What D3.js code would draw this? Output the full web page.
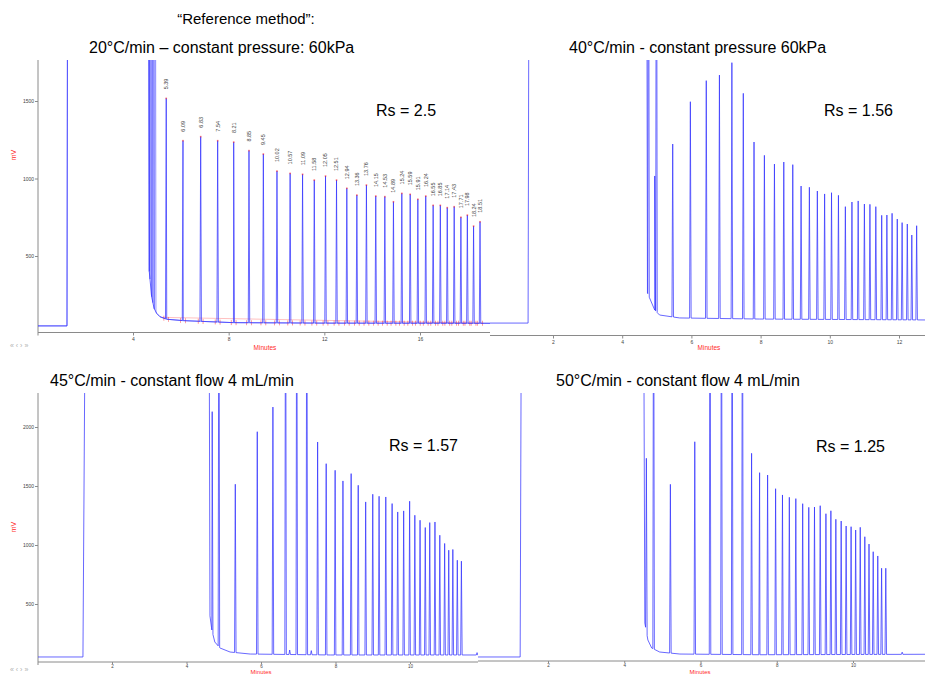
<!DOCTYPE html>
<html>
<head>
<meta charset="utf-8">
<script src="https://cdn.jsdelivr.net/npm/d3@7"></script>
<style>
body { margin: 0; background: #fff; }
svg { display: block; font-family: "Liberation Sans", Arial, sans-serif; }
</style>
</head>
<body>
<svg id="chart" width="925" height="674"></svg>
<script>
// ---- data (minutes / mV) ----
// panel 1: 20°C/min, constant pressure 60kPa
const p1BaseT = [0, 1.24, 1.28, 4.64, 4.68, 4.78, 4.88, 4.99, 5.13, 5.41, 6.1, 8.2, 12, 18.93];
const p1BaseV = [49, 49, 4000, 4000, 400, 237, 163, 130, 108, 92, 83, 70, 67, 66];
const p1EarlyTimes = [4.68, 4.74, 4.80, 4.86, 4.93];
const p1EarlyHeights = [4000, 4000, 4000, 4000, 4000];
const p1Times = [5.39, 6.09, 6.83, 7.54, 8.21, 8.85, 9.45, 10.02, 10.57, 11.09, 11.58, 12.05, 12.51, 12.94, 13.36, 13.76,
  14.15, 14.53, 14.89, 15.24, 15.59, 15.91, 16.24, 16.55, 16.85, 17.14, 17.43, 17.71, 17.98, 18.24, 18.51];
const p1Heights = [1517, 1244, 1270, 1244, 1235, 1180, 1158, 1048, 1033, 1027, 990, 1016, 990, 937, 893, 958,
  887, 883, 850, 904, 898, 866, 887, 827, 827, 812, 818, 750, 764, 693, 721];

// panel 2: 40°C/min, constant pressure 60kPa
const p2BaseT = [0, 1.28, 1.32, 4.70, 4.73, 4.94, 5.08, 5.66, 7.97, 12.8];
const p2BaseV = [77, 77, 4000, 4000, 271, 161, 129, 110, 103, 97];
const p2Times = [4.76, 4.94, 4.99, 5.46, 5.97, 6.43, 6.81, 7.17, 7.50, 7.81, 8.11, 8.40, 8.67, 8.93, 9.17, 9.41, 9.64,
  9.85, 10.05, 10.25, 10.45, 10.64, 10.82, 11.00, 11.16, 11.33, 11.50, 11.65, 11.80, 11.95, 12.09, 12.24, 12.37, 12.51];
const p2Heights = [4000, 1026, 4000, 1232, 1505, 1641, 1677, 1757, 1559, 1245, 1159, 1103, 1116, 1099, 961, 953, 929,
  910, 918, 901, 828, 858, 865, 845, 843, 828, 772, 774, 785, 748, 725, 716, 645, 705];

// panel 3: 45°C/min, constant flow 4 mL/min
const p3BaseT = [0, 1.22, 1.30, 4.60, 4.63, 4.68, 4.76, 4.90, 5.17, 5.71, 7.86, 11.85];
const p3BaseV = [51, 51, 4000, 4000, 400, 280, 178, 127, 93, 76, 68, 68];
const p3Times = [4.69, 4.87, 5.31, 5.90, 6.32, 6.66, 6.77, 6.96, 7.23, 7.35, 7.52, 7.75, 7.99, 8.20, 8.42, 8.61, 8.81,
  9.00, 9.17, 9.35, 9.52, 9.67, 9.83, 9.99, 10.13, 10.27, 10.41, 10.53, 10.67, 10.80, 10.93, 11.04, 11.15, 11.27, 11.38, 11.80];
const p3Heights = [2130, 4000, 1515, 1960, 2169, 4000, 110, 4000, 4000, 105, 1873, 1689, 1633, 1543, 1605, 1506, 1365,
  1430, 1413, 1407, 1351, 1280, 1289, 1371, 1252, 1210, 1148, 1190, 1195, 1083, 1013, 956, 962, 871, 863, 88];

// panel 4: 50°C/min, constant flow 4 mL/min
const p4BaseT = [0, 1.27, 1.31, 4.50, 4.54, 4.62, 4.72, 4.93, 5.46, 7.56, 12];
const p4BaseV = [51, 51, 4000, 4000, 339, 195, 127, 93, 76, 70, 74];
const p4Times = [4.58, 4.77, 5.21, 5.85, 6.25, 6.55, 6.83, 7.10, 7.34, 7.55, 7.76, 7.97, 8.15, 8.33, 8.50, 8.68, 8.84,
  8.99, 9.14, 9.29, 9.42, 9.55, 9.69, 9.82, 9.95, 10.07, 10.19, 10.31, 10.42, 10.53, 10.65, 10.75, 10.86, 11.29];
const p4Heights = [1735, 4000, 1514, 1875, 4000, 4000, 4000, 4000, 1777, 1613, 1593, 1477, 1424, 1404, 1393, 1350, 1319,
  1322, 1333, 1265, 1290, 1218, 1203, 1161, 1155, 1127, 1150, 1070, 1008, 943, 907, 803, 803, 92];

const titles = ["20°C/min – constant pressure: 60kPa", "40°C/min - constant pressure 60kPa",
  "45°C/min - constant flow 4 mL/min", "50°C/min - constant flow 4 mL/min"];
const rsLabels = ["Rs = 2.5", "Rs = 1.56", "Rs = 1.57", "Rs = 1.25"];
const p1YTicks = [500, 1000, 1500];
const p3YTicks = [500, 1000, 1500, 2000];
const p1XTicks = [4, 8, 12, 16];
const p2XTicks = [2, 4, 6, 8, 10, 12];
const p34XTicks = [2, 4, 6, 8, 10];

const traceColor = "#3535ff";
const axisColor = "#8a8a8a";
const redColor = "#ff2a2a";

const svg = d3.select("#chart");

svg.append("text")
  .attr("x", 246).attr("y", 24)
  .attr("text-anchor", "middle")
  .style("font-size", "15px")
  .text("“Reference method”:");

// build a trace: baseline knots + narrow peaks
function buildTrace(baseT, baseV, times, heights, hw) {
  const base = d3.scaleLinear().domain(baseT).range(baseV).clamp(true);
  const pts = baseT.map((t, i) => [t, baseV[i]]);
  times.forEach((t, i) => {
    pts.push([t - hw, base(t - hw)]);
    pts.push([t, heights[i]]);
    pts.push([t + hw, base(t + hw)]);
  });
  pts.sort((a, b) => a[0] - b[0]);
  return { pts, base };
}

function drawPanel(cfg) {
  const x = d3.scaleLinear().domain(cfg.xd).range(cfg.xr);
  const y = d3.scaleLinear().domain(cfg.yd).range(cfg.yr);
  const g = svg.append("g");

  const clipId = "clip" + cfg.id;
  svg.append("clipPath").attr("id", clipId)
    .append("rect")
    .attr("x", cfg.clip[0]).attr("y", cfg.clip[1])
    .attr("width", cfg.clip[2] - cfg.clip[0]).attr("height", cfg.clip[3] - cfg.clip[1]);

  // x axis
  g.append("line")
    .attr("x1", cfg.axisX[0]).attr("x2", cfg.axisX[1])
    .attr("y1", cfg.axisY).attr("y2", cfg.axisY)
    .attr("stroke", axisColor).attr("stroke-width", 1);
  const xa = g.append("g")
    .attr("transform", `translate(0,${cfg.axisY})`)
    .call(d3.axisBottom(x).tickValues(cfg.xTicks).tickSize(cfg.tick[0]).tickPadding(cfg.tick[1]).tickFormat(d3.format("d")));
  xa.select(".domain").remove();
  xa.selectAll("line").attr("stroke", axisColor);
  xa.selectAll("text").attr("fill", "#444").style("font-size", cfg.tick[2] + "px").style("font-family", "Liberation Sans, Arial");

  if (cfg.yTicks) {
    g.append("line")
      .attr("x1", cfg.axisX[0]).attr("x2", cfg.axisX[0])
      .attr("y1", cfg.clip[1]).attr("y2", cfg.axisY + 3)
      .attr("stroke", axisColor).attr("stroke-width", 1);
    const ya = g.append("g")
      .attr("transform", `translate(${cfg.axisX[0]},0)`)
      .call(d3.axisLeft(y).tickValues(cfg.yTicks).tickSize(3).tickPadding(1).tickFormat(d3.format("d")));
    ya.select(".domain").remove();
    ya.selectAll("line").attr("stroke", axisColor);
    ya.selectAll("text").attr("fill", "#444").style("font-size", "5px").style("font-family", "Liberation Sans, Arial");

    g.append("text")
      .attr("transform", `translate(${cfg.mv[0]},${cfg.mv[1]}) rotate(-90)`)
      .attr("text-anchor", "middle")
      .attr("fill", redColor)
      .style("font-size", "7px")
      .text("mV");
    g.append("text")
      .attr("x", 10).attr("y", cfg.nav)
      .attr("fill", "#b0b0b0")
      .style("font-size", "7px")
      .text("« ‹ › »");
  }

  g.append("text")
    .attr("x", cfg.minutes[0]).attr("y", cfg.minutes[1])
    .attr("text-anchor", "middle")
    .attr("fill", redColor)
    .style("font-size", cfg.minutes[2] + "px")
    .text("Minutes");

  // trace
  const tr = buildTrace(cfg.baseT, cfg.baseV, cfg.times, cfg.heights, cfg.hw);
  const line = d3.line().x(d => x(d[0])).y(d => y(d[1]));
  const pg = g.append("g").attr("clip-path", `url(#${clipId})`);

  if (cfg.labels) {
    // integration baseline + red markers
    pg.append("path")
      .datum([[5.2, tr.base(5.2)], [18.65, tr.base(18.65)]])
      .attr("d", line)
      .attr("fill", "none").attr("stroke", redColor).attr("stroke-width", 0.6).attr("opacity", 0.5);
    cfg.labels.forEach((t, i) => {
      [-0.1, 0.1].forEach(o => {
        const bx = x(t + o), by = y(tr.base(t + o));
        pg.append("line")
          .attr("x1", bx).attr("x2", bx).attr("y1", by - 2.5).attr("y2", by + 2.5)
          .attr("stroke", redColor).attr("stroke-width", 0.7).attr("opacity", 0.7);
      });
    });
  }

  pg.append("path")
    .datum(tr.pts)
    .attr("d", line)
    .attr("fill", "none")
    .attr("stroke", traceColor)
    .attr("stroke-width", 1)
    .attr("opacity", 0.75);

  if (cfg.extraTimes) {
    const ex = buildTrace(cfg.baseT, cfg.baseV, cfg.extraTimes, cfg.extraHeights, cfg.hw);
    pg.append("path")
      .datum(ex.pts)
      .attr("d", line)
      .attr("fill", "none")
      .attr("stroke", traceColor)
      .attr("stroke-width", 1)
      .attr("opacity", 0.5);
  }

  if (cfg.labels) {
    cfg.labels.forEach((t, i) => {
      const h = cfg.heights[i];
      pg.append("rect")
        .attr("x", x(t) - 0.8).attr("y", y(h) - 0.8)
        .attr("width", 1.6).attr("height", 1.6)
        .attr("fill", redColor).attr("opacity", 0.6);
      g.append("text")
        .attr("transform", `translate(${x(t)},${y(h) - 9}) rotate(-90)`)
        .attr("dy", "0.35em")
        .attr("fill", "#444")
        .style("font-size", "5.5px")
        .text(d3.format(".2f")(t));
    });
  }

  svg.append("text")
    .attr("x", cfg.title[0]).attr("y", cfg.title[1])
    .style("font-size", "16px")
    .text(cfg.titleText);
  svg.append("text")
    .attr("x", cfg.rs[0]).attr("y", cfg.rs[1])
    .style("font-size", "16px")
    .text(cfg.rsText);
}

drawPanel({
  id: 1, xd: [4, 16], xr: [133, 420], yd: [500, 1500], yr: [256, 101],
  clip: [38, 60, 490, 334], axisX: [38, 490], axisY: 332.5, xTicks: p1XTicks, yTicks: p1YTicks,
  tick: [3, 2, 5], mv: [16, 155], nav: 348, minutes: [265, 350, 6.5],
  baseT: p1BaseT, baseV: p1BaseV, times: p1Times, heights: p1Heights, hw: 0.03,
  extraTimes: p1EarlyTimes, extraHeights: p1EarlyHeights, labels: p1Times,
  title: [89, 53], titleText: titles[0], rs: [376, 116], rsText: rsLabels[0]
});

drawPanel({
  id: 2, xd: [2, 12], xr: [553, 899], yd: [0, 1000], yr: [335, 180],
  clip: [490, 60, 925, 334], axisX: [490, 925], axisY: 335.5, xTicks: p2XTicks,
  tick: [3, 2, 5], minutes: [709, 350, 6.5],
  baseT: p2BaseT, baseV: p2BaseV, times: p2Times, heights: p2Heights, hw: 0.022,
  title: [569, 53], titleText: titles[1], rs: [824, 116], rsText: rsLabels[1]
});

drawPanel({
  id: 3, xd: [2, 10], xr: [112, 410], yd: [500, 2000], yr: [604, 427],
  clip: [38, 393, 478, 662], axisX: [38, 478], axisY: 662, xTicks: p34XTicks, yTicks: p3YTicks,
  tick: [2, 1, 4.5], mv: [16, 527], nav: 672, minutes: [261, 673.6, 6],
  baseT: p3BaseT, baseV: p3BaseV, times: p3Times, heights: p3Heights, hw: 0.02,
  title: [50, 386], titleText: titles[2], rs: [389, 451], rsText: rsLabels[2]
});

drawPanel({
  id: 4, xd: [2, 10], xr: [548, 853], yd: [0, 1000], yr: [663, 545],
  clip: [478, 393, 925, 661], axisX: [478, 925], axisY: 661, xTicks: p34XTicks,
  tick: [2, 1, 4.5], minutes: [700, 673.6, 6],
  baseT: p4BaseT, baseV: p4BaseV, times: p4Times, heights: p4Heights, hw: 0.02,
  title: [556, 386], titleText: titles[3], rs: [816, 452], rsText: rsLabels[3]
});
</script>
</body>
</html>
